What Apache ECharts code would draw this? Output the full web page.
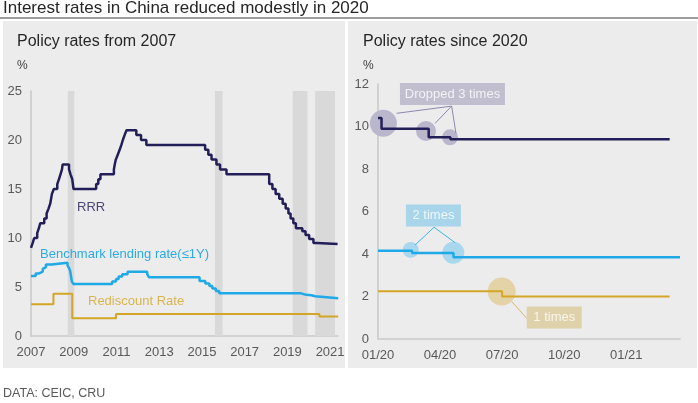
<!DOCTYPE html>
<html>
<head>
<meta charset="utf-8">
<script src="https://cdn.jsdelivr.net/npm/echarts@6/dist/echarts.min.js"></script>
<style>
html, body { margin: 0; padding: 0; background: #fff; }
#chart { width: 698px; height: 403px; }
</style>
</head>
<body>
<div id="chart"></div>
<script>
// left panel: policy rates from 2007 (x = decimal year, step changes)
var rrrYears = [2007.00, 2007.08, 2007.15, 2007.29, 2007.37, 2007.43, 2007.62, 2007.73, 2007.82, 2007.90, 2007.98,
  2008.07, 2008.23, 2008.31, 2008.38, 2008.45, 2008.48, 2008.78, 2008.85, 2008.93, 2008.99,
  2010.05, 2010.15, 2010.25, 2010.88, 2010.92, 2010.97, 2011.06, 2011.15, 2011.23, 2011.30, 2011.38, 2011.47,
  2011.93, 2012.15, 2012.40, 2015.15, 2015.30, 2015.45, 2015.68, 2015.85, 2016.15,
  2018.15, 2018.30, 2018.45, 2018.62, 2018.78, 2018.92, 2019.05, 2019.15, 2019.28, 2019.40, 2019.70, 2019.85,
  2020.02, 2020.22, 2020.38, 2021.35];
var rrrRates = [9.0, 9.5, 10.0, 10.5, 11.0, 11.5, 12.0, 12.5, 13.0, 13.5, 14.5,
  15.0, 15.5, 16.0, 16.5, 17.0, 17.5, 17.0, 16.5, 16.0, 15.0,
  15.5, 16.0, 16.5, 17.0, 17.5, 18.0, 18.5, 19.0, 19.5, 20.0, 20.5, 21.0,
  20.5, 20.0, 19.5, 19.0, 18.5, 18.0, 17.5, 17.0, 16.5,
  15.5, 15.0, 14.5, 14.0, 13.5, 13.0, 12.5, 12.0, 11.5, 11.0, 10.7, 10.3,
  9.9, 9.5, 9.4, 9.4];

var lendYears = [2007.00, 2007.22, 2007.38, 2007.55, 2007.62, 2007.70, 2007.97, 2008.71, 2008.78, 2008.83, 2008.91, 2008.98,
  2010.80, 2010.98, 2011.10, 2011.27, 2011.52, 2012.44, 2012.52, 2014.89, 2015.16, 2015.35, 2015.49, 2015.65, 2015.81,
  2019.64, 2019.72, 2019.88, 2020.13, 2020.30, 2021.38];
var lendRates = [6.12, 6.39, 6.57, 6.84, 7.02, 7.29, 7.47, 7.20, 6.93, 6.66, 5.58, 5.31,
  5.56, 5.81, 6.06, 6.31, 6.56, 6.31, 6.00, 5.60, 5.35, 5.10, 4.85, 4.60, 4.35,
  4.31, 4.20, 4.15, 4.05, 3.85, 3.85];

var rediscYears = [2007.00, 2008.05, 2008.93, 2010.98, 2020.50, 2021.38];
var rediscRates = [3.24, 4.32, 1.80, 2.25, 2.00, 2.00];

// shaded periods on the left panel
var bandStart = [2008.72, 2015.61, 2019.25, 2020.30];
var bandEnd   = [2009.03, 2015.97, 2019.94, 2021.23];

// right panel: since 2020 (x = months after Jan 2020)
var rrr20Months = [0, 0.17, 2.45, 3.50, 14.1];
var rrr20Rates  = [10.4, 9.9, 9.5, 9.4, 9.4];
var lend20Months = [0, 1.65, 3.65, 14.6];
var lend20Rates  = [4.15, 4.05, 3.85, 3.85];
var redisc20Months = [0, 6.0, 14.1];
var redisc20Rates  = [2.25, 2.0, 2.0];

// highlighted cuts: [month, rate, size]
var rrrCuts    = [[0.26, 10.15, 27], [2.32, 9.79, 20], [3.48, 9.49, 16]];
var lendCuts   = [[1.58, 4.19, 16], [3.64, 4.06, 22]];
var rediscCuts = [[5.98, 2.23, 28]];

var leftYTicks = [0, 25, 5];
var rightYTicks = [0, 12, 2];

function pairs(xs, ys) {
  return xs.map(function (x, i) { return [x, ys[i]]; });
}

var font = 'Liberation Sans, Arial, sans-serif';
var NAVY = '#221e57', BLUE = '#1fa9e6', GOLD = '#d4a627';

var chart = echarts.init(document.getElementById('chart'));

function lineSeries(name, data, color, idx, width) {
  return {
    name: name, type: 'line', step: 'end', symbol: 'none',
    xAxisIndex: idx, yAxisIndex: idx, data: data, z: 3,
    lineStyle: { color: color, width: width }
  };
}

function bubbles(data, color) {
  return {
    type: 'scatter', xAxisIndex: 1, yAxisIndex: 1, z: 1, data: data,
    symbolSize: function (d) { return d[2]; },
    itemStyle: { color: color, opacity: 1 }
  };
}

function note(x, y, text, w, color) {
  return {
    type: 'scatter', xAxisIndex: 1, yAxisIndex: 1, z: 4, symbol: 'rect',
    symbolSize: [w, 22], data: [[x, y]],
    itemStyle: { color: color },
    label: { show: true, position: 'inside', formatter: text, color: '#fff', fontSize: 13, fontFamily: font }
  };
}

function leaders(list, color) {
  return {
    type: 'lines', coordinateSystem: 'cartesian2d', xAxisIndex: 1, yAxisIndex: 1, z: 2,
    lineStyle: { color: color, width: 1, opacity: 1 },
    data: list.map(function (c) { return { coords: c }; })
  };
}

var axisLbl = { color: '#595959', fontSize: 13, fontFamily: font };
var axisLn = { show: true, lineStyle: { color: '#c9c9c9', width: 1.5 } };

var option = {
  animation: false,
  backgroundColor: '#fff',
  textStyle: { fontFamily: font },
  graphic: [
    { type: 'rect', z: -100, shape: { x: 0, y: 17, width: 698, height: 2 }, style: { fill: '#9d9d9d' } },
    { type: 'rect', z: -100, shape: { x: 3, y: 21, width: 342, height: 347 }, style: { fill: '#ececec' } },
    { type: 'rect', z: -100, shape: { x: 348, y: 21, width: 349, height: 347 }, style: { fill: '#ececec' } },
    { type: 'text', z: 100, left: 3, top: 0, style: { text: 'Interest rates in China reduced modestly in 2020', fontSize: 17, fill: '#262626', fontFamily: font } },
    { type: 'text', z: 100, left: 17, top: 34, style: { text: 'Policy rates from 2007', fontSize: 16, fill: '#262626', fontFamily: font } },
    { type: 'text', z: 100, left: 17, top: 60, style: { text: '%', fontSize: 12, fill: '#404040', fontFamily: font } },
    { type: 'text', z: 100, left: 363, top: 34, style: { text: 'Policy rates since 2020', fontSize: 16, fill: '#262626', fontFamily: font } },
    { type: 'text', z: 100, left: 363, top: 60, style: { text: '%', fontSize: 12, fill: '#404040', fontFamily: font } },
    { type: 'text', z: 100, left: 77, top: 201, style: { text: 'RRR', fontSize: 13, fill: '#4b4775', fontFamily: font } },
    { type: 'text', z: 100, left: 40, top: 248, style: { text: 'Benchmark lending rate(\u22641Y)', fontSize: 13, fill: '#2eaae2', fontFamily: font } },
    { type: 'text', z: 100, left: 88, top: 295, style: { text: 'Rediscount Rate', fontSize: 13, fill: '#d9b550', fontFamily: font } },
    { type: 'text', z: 100, left: 3, top: 387, style: { text: 'DATA: CEIC, CRU', fontSize: 12.5, fill: '#595959', fontFamily: font } }
  ],
  grid: [
    { left: 31, right: 360, top: 91, bottom: 67 },
    { left: 378, right: 18, top: 84, bottom: 64 }
  ],
  xAxis: [
    {
      type: 'value', gridIndex: 0, min: 2007, max: 2021.37, interval: 1,
      axisLine: axisLn, axisTick: { show: false }, splitLine: { show: false },
      axisLabel: Object.assign({ margin: 10, formatter: function (v) {
        return (Math.abs(v - Math.round(v)) < 1e-6 && Math.round(v) % 2 === 1) ? String(Math.round(v)) : '';
      } }, axisLbl)
    },
    {
      type: 'value', gridIndex: 1, min: 0, max: 14.6, interval: 3,
      axisLine: axisLn, axisTick: { show: false }, splitLine: { show: false },
      axisLabel: Object.assign({ margin: 10, formatter: function (v) {
        if (Math.abs(v - Math.round(v)) > 1e-6 || Math.round(v) % 3 !== 0) return '';
        var m = Math.round(v);
        var mon = (m % 12) + 1, yr = 20 + Math.floor(m / 12);
        return (mon < 10 ? '0' : '') + mon + '/' + yr;
      } }, axisLbl)
    }
  ],
  yAxis: [
    {
      type: 'value', gridIndex: 0, min: leftYTicks[0], max: leftYTicks[1], interval: leftYTicks[2],
      axisLine: axisLn, axisTick: { show: false }, splitLine: { show: false },
      axisLabel: Object.assign({ margin: 9 }, axisLbl)
    },
    {
      type: 'value', gridIndex: 1, min: rightYTicks[0], max: rightYTicks[1], interval: rightYTicks[2],
      axisLine: axisLn, axisTick: { show: false }, splitLine: { show: false },
      axisLabel: Object.assign({ margin: 9 }, axisLbl)
    }
  ],
  series: [
    Object.assign(lineSeries('RRR', pairs(rrrYears, rrrRates), NAVY, 0, 2.5), {
      markArea: {
        silent: true,
        itemStyle: { color: '#d9d9d9' },
        data: bandStart.map(function (s, i) { return [{ xAxis: s }, { xAxis: bandEnd[i] }]; })
      }
    }),
    lineSeries('Benchmark lending rate', pairs(lendYears, lendRates), BLUE, 0, 2.5),
    lineSeries('Rediscount Rate', pairs(rediscYears, rediscRates), GOLD, 0, 2),

    bubbles(rrrCuts, '#bab6cc'),
    bubbles(lendCuts, '#a9d7ee'),
    bubbles(rediscCuts, '#e4d3a7'),

    lineSeries('RRR 2020', pairs(rrr20Months, rrr20Rates), NAVY, 1, 2.5),
    lineSeries('Lending 2020', pairs(lend20Months, lend20Rates), BLUE, 1, 2.5),
    lineSeries('Rediscount 2020', pairs(redisc20Months, redisc20Rates), GOLD, 1, 2),

    leaders([
      [[3.56, 10.96], [0.90, 10.62]],
      [[3.56, 10.96], [2.76, 10.15]],
      [[3.56, 10.96], [3.77, 9.68]]
    ], '#8d88ad'),
    leaders([
      [[2.71, 5.26], [1.79, 4.42]],
      [[2.71, 5.26], [3.73, 4.53]]
    ], '#3cb4e6'),
    leaders([
      [[6.47, 1.76], [7.19, 0.97]]
    ], '#d8b865'),

    note(3.6, 11.53, 'Dropped 3 times', 105, '#b7b3c8'),
    note(2.68, 5.81, '2 times', 55, '#97d0ea'),
    note(8.52, 1.01, '1 times', 55, '#dccb9a')
  ]
};

chart.setOption(option);
</script>
</body>
</html>
